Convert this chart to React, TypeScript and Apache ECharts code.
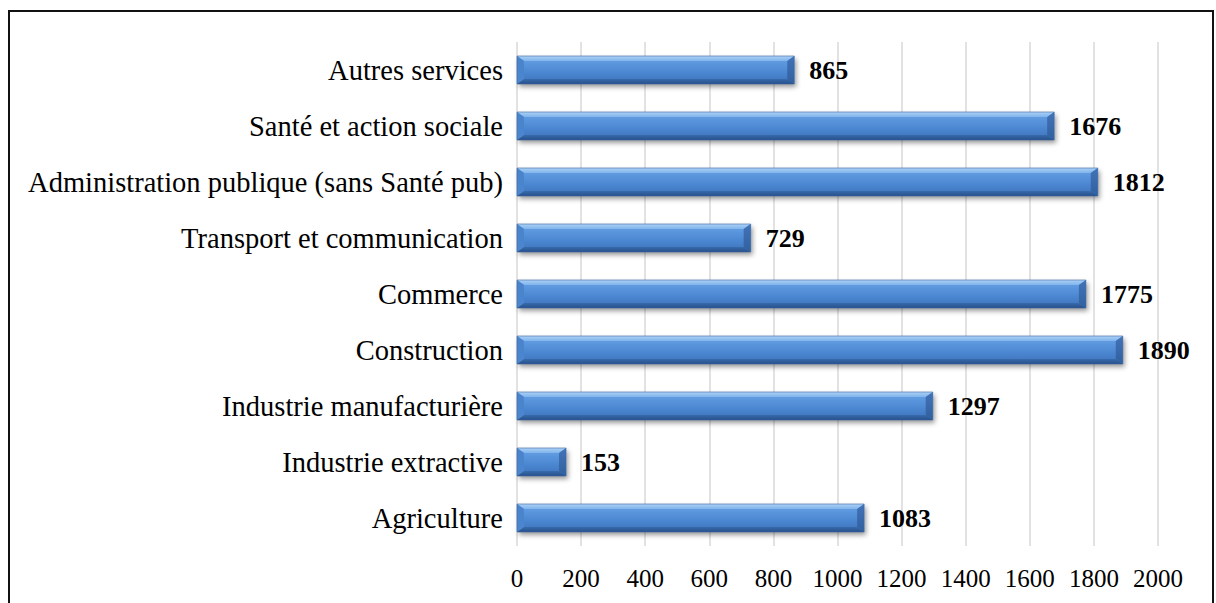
import React, { useEffect, useRef } from "react";
import * as echarts from "echarts";

const categories = [
  "Agriculture",
  "Industrie extractive",
  "Industrie manufacturière",
  "Construction",
  "Commerce",
  "Transport et communication",
  "Administration publique (sans Santé pub)",
  "Santé et action sociale",
  "Autres services",
];
const values = [1083, 153, 1297, 1890, 1775, 729, 1812, 1676, 865];
const xTicks = { min: 0, max: 2000, interval: 200 };

const FONT = "Liberation Serif";
const BAR_H = 28;

function renderBar(params: any, api: any) {
  const idx = api.value(0);
  const val = api.value(1);
  const start = api.coord([0, idx]);
  const end = api.coord([val, idx]);
  const x0 = start[0];
  const x1 = end[0];
  const y0 = start[1] - BAR_H / 2;
  const y1 = start[1] + BAR_H / 2;
  const w = x1 - x0;
  const b = Math.min(7, w / 3);
  const t = 5;
  const grad = (stops: [number, string][], x2 = 0, y2 = 1) =>
    new echarts.graphic.LinearGradient(
      0,
      0,
      x2,
      y2,
      stops.map(([offset, color]) => ({ offset, color }))
    );
  return {
    type: "group",
    children: [
      {
        type: "rect",
        shape: { x: x0, y: y0, width: w, height: BAR_H },
        style: {
          fill: grad([
            [0, "#74ade9"],
            [0.2, "#5e9ae0"],
            [0.6, "#4b86d0"],
            [1, "#3c72ba"],
          ]),
          shadowBlur: 5,
          shadowColor: "rgba(0,0,0,0.4)",
          shadowOffsetX: 2,
          shadowOffsetY: 3,
        },
      },
      {
        type: "polygon",
        shape: { points: [[x0, y0], [x1, y0], [x1 - b, y0 + t], [x0 + b, y0 + t]] },
        style: { fill: grad([[0, "#acd0f6"], [1, "#80b4ec"]]) },
      },
      {
        type: "polygon",
        shape: { points: [[x0, y1], [x1, y1], [x1 - b, y1 - t], [x0 + b, y1 - t]] },
        style: { fill: grad([[0, "#386bad"], [1, "#284f88"]]) },
      },
      {
        type: "polygon",
        shape: { points: [[x0, y0], [x0 + b, y0 + t], [x0 + b, y1 - t], [x0, y1]] },
        style: { fill: grad([[0, "#4a83cb"], [1, "#4b86d0"]]) },
      },
      {
        type: "polygon",
        shape: { points: [[x1, y0], [x1 - b, y0 + t], [x1 - b, y1 - t], [x1, y1]] },
        style: { fill: grad([[0, "#4273b8"], [1, "#31609e"]]) },
      },
      {
        type: "rect",
        shape: { x: x0, y: y0, width: w, height: BAR_H },
        style: { fill: "none", stroke: "#3b6aa5", lineWidth: 0.6 },
      },
    ],
  };
}

export default function App() {
  const ref = useRef<HTMLDivElement>(null);
  useEffect(() => {
    document.body.style.margin = "0";
    const chart = echarts.init(ref.current!, null, { renderer: "svg" });
    chart.setOption({
      animation: false,
      backgroundColor: "#ffffff",
      graphic: [
        {
          type: "rect",
          shape: { x: 9, y: 11, width: 1204, height: 620 },
          style: { fill: "none", stroke: "#111", lineWidth: 2 },
          silent: true,
        },
      ],
      grid: { left: 517, right: 58, top: 42, height: 504, containLabel: false },
      xAxis: {
        type: "value",
        min: xTicks.min,
        max: xTicks.max,
        interval: xTicks.interval,
        axisLine: { show: false },
        axisTick: { show: false },
        splitLine: { show: true, lineStyle: { color: "#d9d9d9", width: 1.5 } },
        axisLabel: {
          fontFamily: FONT,
          fontSize: 25,
          color: "#000",
          margin: 20,
          formatter: (v: number) => String(v),
        },
      },
      yAxis: {
        type: "category",
        data: categories,
        axisLine: { show: false },
        axisTick: { show: false },
        splitLine: { show: false },
        axisLabel: { fontFamily: FONT, fontSize: 28.5, color: "#000", margin: 14 },
      },
      series: [
        {
          type: "bar",
          data: values,
          barWidth: BAR_H,
          itemStyle: { color: "rgba(0,0,0,0)" },
          label: {
            show: true,
            position: "right",
            distance: 15,
            fontFamily: FONT,
            fontSize: 26,
            fontWeight: "bold",
            color: "#000",
          },
          z: 3,
        },
        {
          type: "custom",
          renderItem: renderBar,
          data: values.map((v, i) => [i, v]),
          encode: { x: 1, y: 0 },
          z: 2,
        },
      ],
    });
    return () => chart.dispose();
  }, []);
  return <div ref={ref} style={{ width: 1216, height: 603 }} />;
}
